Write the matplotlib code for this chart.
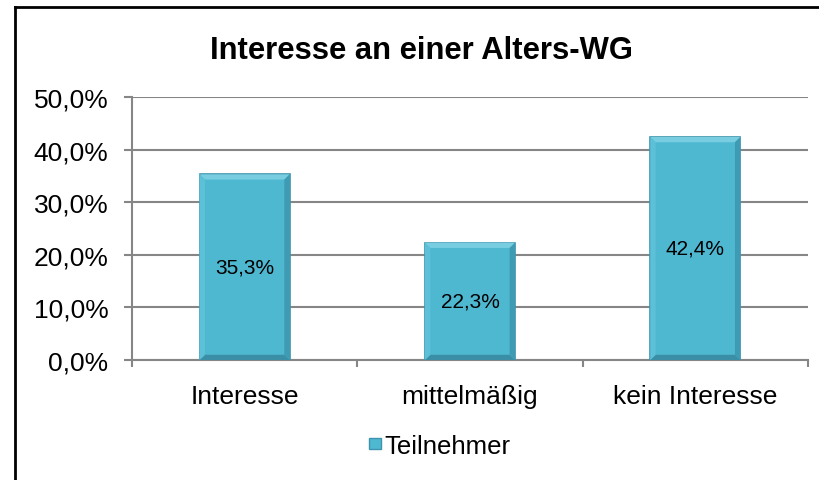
import numpy as np
import matplotlib
matplotlib.use("Agg")
import matplotlib.pyplot as plt
from matplotlib.lines import Line2D
from matplotlib.patches import Polygon, Patch

plt.rcParams['font.family'] = ['Liberation Sans', 'DejaVu Sans']

# Daten
kategorien = ["Interesse", "mittelmäßig", "kein Interesse"]
werte = [35.3, 22.3, 42.4]
y_ticks = [0, 10, 20, 30, 40, 50]
titel = "Interesse an einer Alters-WG"
serie = "Teilnehmer"

fig = plt.figure(figsize=(8.2, 4.81), dpi=100)
ax = fig.add_axes([132/820, 1-361/481, 676/820, 263/481])

x = np.arange(len(kategorien))
farbe = '#4fb8d1'
bars = ax.bar(x, werte, width=0.4, color=farbe, edgecolor='#3d94ac', linewidth=1.2, zorder=3)

# Bevel-Effekt (aus den Balken berechnet)
for b in bars:
    x0, w, h = b.get_x(), b.get_width(), b.get_height()
    dx, dy = w * 0.06, 1.0
    top = Polygon([(x0, h), (x0+w, h), (x0+w-dx, h-dy), (x0+dx, h-dy)],
                  closed=True, color='#78cde0', lw=0, zorder=4)
    bot = Polygon([(x0, 0), (x0+w, 0), (x0+w-dx, dy), (x0+dx, dy)],
                  closed=True, color='#3a8fa7', lw=0, zorder=4)
    left = Polygon([(x0, 0), (x0+dx, dy), (x0+dx, h-dy), (x0, h)],
                   closed=True, color='#5cc0d8', lw=0, zorder=4)
    right = Polygon([(x0+w, 0), (x0+w-dx, dy), (x0+w-dx, h-dy), (x0+w, h)],
                    closed=True, color='#3f9ab3', lw=0, zorder=4)
    for p in (top, bot, left, right):
        ax.add_patch(p)
    ax.text(x0 + w/2, h/2, f"{h:.1f}%".replace('.', ','), ha='center', va='center',
            fontsize=15, color='black', zorder=5)

ax.set_xlim(-0.5, len(kategorien) - 0.5)
ax.set_ylim(0, 50)
ax.set_yticks(y_ticks)
ax.set_yticklabels([f"{t:.1f}%".replace('.', ',') for t in y_ticks])
ax.set_xticks(x)
ax.set_xticklabels(kategorien)
ax.set_xticks(np.arange(-0.5, len(kategorien)), minor=True)
ax.tick_params(axis='x', which='major', length=0, pad=17, labelsize=19)
ax.tick_params(axis='x', which='minor', length=5, width=1.5, color='#868686')
ax.tick_params(axis='y', length=6, width=1.5, color='#868686', pad=11, labelsize=19)

ax.grid(axis='y', color='#868686', linewidth=1.5, zorder=0)
ax.set_axisbelow(True)
for s in ['top', 'right']:
    ax.spines[s].set_visible(False)
for s in ['left', 'bottom']:
    ax.spines[s].set_color('#868686')
    ax.spines[s].set_linewidth(1.5)

fig.text(0.514, 1-51/481, titel, ha='center', va='center', fontsize=22.3, fontweight='bold')

handle = Patch(facecolor=farbe, edgecolor='#3d94ac')
fig.legend([handle], [serie], loc='center', bbox_to_anchor=(440/820, 1-447/481),
           frameon=False, fontsize=18.5, handlelength=0.45, handleheight=0.25,
           handletextpad=0.15)

# Rahmen
fig.add_artist(Line2D([15/820, 15/820], [0, 1-8/481], color='black', lw=2))
fig.add_artist(Line2D([15/820, 1], [1-8/481, 1-8/481], color='black', lw=2))

fig.savefig("out.png", dpi=100)
